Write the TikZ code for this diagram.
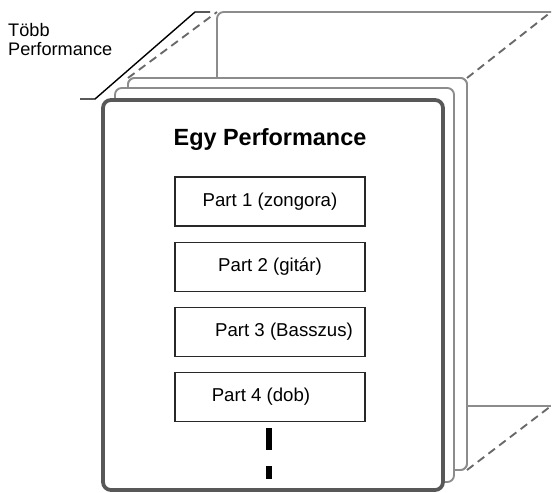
\documentclass[tikz,border=0pt]{standalone}
\usepackage{fontspec}
\setmainfont{Liberation Sans}
\usepackage{xcolor}
\usepackage{tikz}
\usetikzlibrary{positioning}
\definecolor{framegray}{RGB}{88, 88, 88}
\definecolor{pagegray}{RGB}{140, 140, 140}
\definecolor{dashgray}{RGB}{105, 105, 105}
\definecolor{partline}{RGB}{40, 40, 40}

\begin{document}
\begin{tikzpicture}[
  x=0.03cm, y=-0.03cm,
  node distance=0.45cm,
  frontbox/.style={rectangle, draw=framegray, fill=white, rounded corners=2.4mm, line width=3.2pt, inner sep=0pt, outer sep=0pt, minimum width=10.2cm, minimum height=11.7cm},
  pagebox/.style={rectangle, draw=pagegray, fill=white, rounded corners=2mm, line width=1.6pt, inner sep=0pt, outer sep=0pt, minimum width=10.17cm},
  partbox/.style={rectangle, draw=partline, fill=white, line width=0.9pt, minimum width=5.7cm, minimum height=1.47cm, inner sep=0pt, font=\fontsize{15.9}{19}\selectfont},
  backline/.style={draw=pagegray, line width=1.6pt, rounded corners=2mm},
  dashline/.style={draw=dashgray, line width=1.6pt, dash pattern=on 7pt off 4.5pt},
  vbar/.style={line width=4.4pt, draw=black}
]
\useasboundingbox (0,0) rectangle (553,492);

\coordinate (back-nw) at (217,12);
\coordinate (back-ne) at (551,12);
\coordinate (back-se) at (551,406);

\node[pagebox, minimum height=11.76cm] (page3) at (297.5,274) {};

\draw[backline] (page3.north -| back-nw) -- (back-nw) -- (back-ne);
\draw[backline] (page3.east |- back-se) -- (back-se);
\draw[dashline] (page3.north west) -- (back-nw);
\draw[dashline] (page3.north east) -- (back-ne);
\draw[dashline] (page3.south east) -- (back-se);

\node[pagebox, minimum height=11.76cm] at (297.5,274) {};
\node[pagebox, minimum height=11.82cm] (page2) at (284.5,285) {};
\node[frontbox] (front) at (273,295) {};

\draw[line width=1.2pt] (80,99) -- (95,99) -- (195,12) -- (210,12);
\node[anchor=north west, inner sep=0pt, align=left, font=\fontsize{15.5}{16.5}\selectfont] (multi) at (8,23) {Több\\Performance};

\node[font=\fontsize{20}{24}\selectfont\bfseries] (title) at (270,139) {Egy Performance};

\node[partbox] (part1) at (270,201.5) {Part 1 (zongora)};
\node[partbox, below=of part1] (part2) {Part 2 (gitár)};
\node[partbox, below=of part2] (part3) {\hspace*{0.84cm}Part 3 (Basszus)};
\node[partbox, below=of part3] (part4) {Part 4 (dob)\hspace*{0.54cm}};

\draw[vbar] (269,428) -- (269,450);
\draw[vbar] (269,466) -- (269,479);
\end{tikzpicture}
\end{document}
